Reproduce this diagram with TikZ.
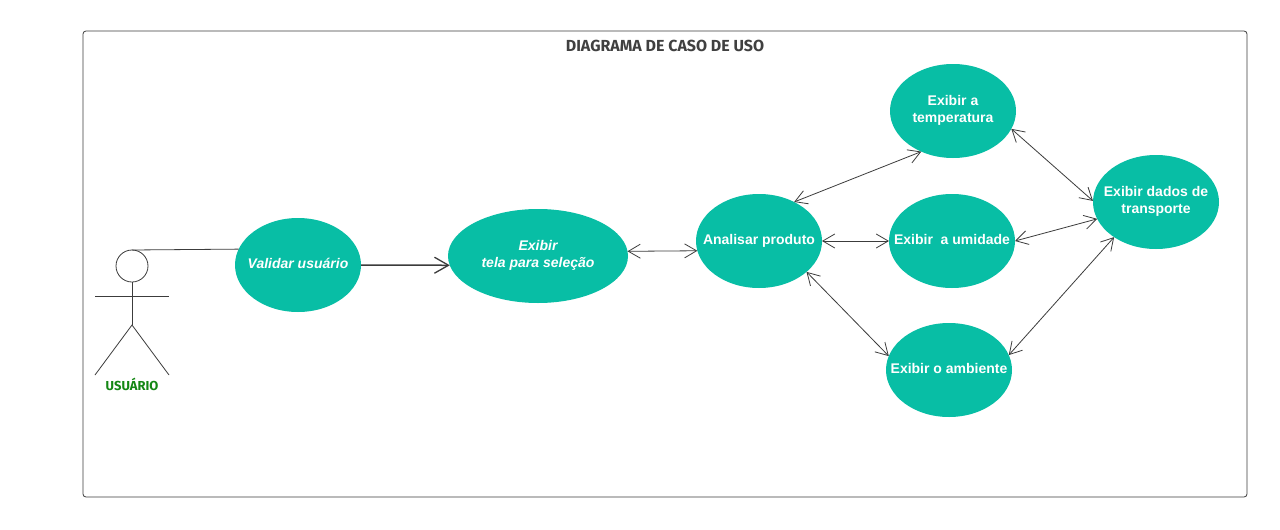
\documentclass[tikz,border=0pt]{standalone}
\usepackage{fontspec}
\setmainfont{Liberation Sans}
\newfontfamily\handfont{Fira Sans}
\usetikzlibrary{shapes.geometric,arrows.meta}
\definecolor{teal1}{RGB}{8,190,165}
\definecolor{line1}{RGB}{60,60,60}
\definecolor{green1}{RGB}{20,135,20}
\newcommand{\uctext}[1]{\makebox[0pt]{\raisebox{-3.5pt}[0pt][0pt]{\begin{tabular}{@{}c@{}}#1\end{tabular}}}}
\tikzset{
  x=1pt,y=-1pt,
  usecase/.style={ellipse,fill=teal1,draw=none,inner sep=0pt,outer sep=0pt,minimum width=126pt,minimum height=94pt,text=white,font=\bfseries\fontsize{14}{17}\selectfont},
  usecasei/.style={usecase,font=\bfseries\itshape\fontsize{14}{17}\selectfont},
  link/.style={draw=line1,line width=0.8pt,{Straight Barb[length=12pt,width=14pt,line width=0.8pt]}-{Straight Barb[length=12pt,width=14pt,line width=0.8pt]}},
  flow/.style={draw=line1,line width=1.5pt,-{Straight Barb[length=14pt,width=16pt,line width=1.3pt]}},
  stick/.style={draw=line1,line width=0.8pt},
  frame/.style={draw=line1,line width=0.8pt,rounded corners=3pt,fill=white},
}
\begin{document}
\begin{tikzpicture}
\useasboundingbox (0,0) rectangle (1280,530);
\fill[white] (0,0) rectangle (1280,530);
\draw[frame] (83,31) rectangle (1247,497);
\node[text=black!75,font=\handfont\bfseries\fontsize{16}{18}\selectfont] (title) at (665,46) {DIAGRAMA DE CASO DE USO};

% actor
\node[circle,stick,minimum size=32pt,inner sep=0pt,outer sep=0pt] (head) at (132,266) {};
\coordinate (hip) at (132,325);
\coordinate (armL) at (95,296);
\coordinate (armR) at (169,296);
\coordinate (legL) at (95,375);
\coordinate (legR) at (169,375);
\draw[stick] (head.south) -- (hip);
\draw[stick] (armL) -- (armR);
\draw[stick] (legL) -- (hip) -- (legR);
\node[text=green1,font=\handfont\bfseries\fontsize{13}{15}\selectfont] (actor) at (132,384.5) {USUÁRIO};

% use cases
\node[usecasei] (val) at (298,265) {\uctext{Validar usuário}};
\node[usecasei,minimum width=180pt] (exi) at (538,256) {\uctext{Exibir\\tela para seleção}};
\node[usecase] (ana) at (759,241) {\uctext{Analisar produto}};
\node[usecase] (tem) at (953,111) {\uctext{Exibir a\\temperatura}};
\node[usecase] (umi) at (952,241) {\uctext{Exibir\ \ a umidade}};
\node[usecase] (amb) at (949,370) {\uctext{Exibir o ambiente}};
\node[usecase] (tra) at (1156,202) {\uctext{Exibir dados de\\transporte}};

% connectors
\draw[stick] (head.north) -- (val.165.3);
\draw[flow] (val.east) -- (exi.186.3);
\draw[link] (exi.3.8) -- (ana.189.8);
\draw[link] (ana.48) -- (tem.232.5);
\draw[link] (ana.east) -- (umi.west);
\draw[link] (ana.-33.1) -- (amb.167.3);
\draw[link] (tem.-17.6) -- (tra.179);
\draw[link] (umi.east) -- (tra.196.7);
\draw[link] (amb.14.7) -- (tra.220.7);
\end{tikzpicture}
\end{document}
